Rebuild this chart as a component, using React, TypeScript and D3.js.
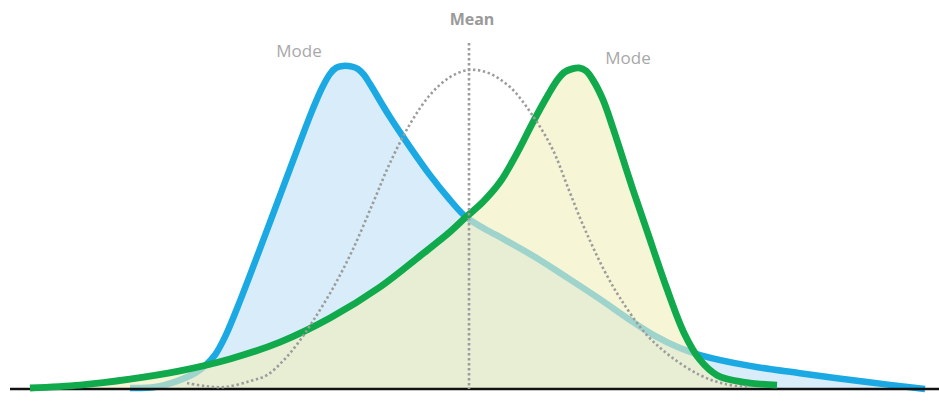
import React from "react";
import * as d3 from "d3";

// Skewed distributions vs. a symmetric reference curve (standardised x, relative density y)
const positiveSkewX = [-3.685, -3.413, -3.174, -2.978, -2.87, -2.761, -2.652, -2.489, -2.326, -2.163, -2.0, -1.837, -1.707, -1.598, -1.511, -1.446, -1.37, -1.272, -1.207, -1.141, -1.076, -0.859, -0.641, -0.424, -0.207, -0.033, 0.174, 0.391, 0.717, 1.076, 1.435, 1.75, 2.022, 2.293, 2.511, 3.054, 3.598, 4.326, 4.957];
const positiveSkewY = [0.003, 0.006, 0.024, 0.048, 0.07, 0.103, 0.158, 0.267, 0.385, 0.506, 0.627, 0.748, 0.842, 0.912, 0.955, 0.973, 0.979, 0.977, 0.97, 0.952, 0.924, 0.824, 0.733, 0.648, 0.573, 0.521, 0.485, 0.452, 0.4, 0.336, 0.27, 0.209, 0.161, 0.124, 0.103, 0.07, 0.048, 0.021, 0.0];

const negativeSkewX = [-4.772, -4.228, -3.685, -3.141, -2.598, -2.054, -1.511, -0.967, -0.533, -0.207, -0.033, 0.152, 0.337, 0.511, 0.696, 0.859, 0.967, 1.043, 1.12, 1.196, 1.272, 1.348, 1.457, 1.565, 1.674, 1.783, 1.935, 2.152, 2.337, 2.511, 2.696, 2.978, 3.348];
const negativeSkewY = [0.003, 0.012, 0.03, 0.055, 0.091, 0.142, 0.215, 0.309, 0.403, 0.476, 0.521, 0.567, 0.627, 0.709, 0.809, 0.891, 0.939, 0.961, 0.97, 0.973, 0.964, 0.936, 0.876, 0.791, 0.697, 0.603, 0.479, 0.303, 0.17, 0.088, 0.042, 0.021, 0.012];

const normalX = [-3.065, -2.87, -2.652, -2.38, -2.196, -2.022, -1.859, -1.696, -1.478, -1.261, -1.043, -0.859, -0.641, -0.424, -0.207, 0.0, 0.207, 0.446, 0.696, 0.913, 1.065, 1.207, 1.337, 1.478, 1.641, 1.913, 2.185, 2.511, 2.783, 3.054];
const normalY = [0.018, 0.009, 0.006, 0.024, 0.042, 0.085, 0.139, 0.206, 0.306, 0.424, 0.564, 0.685, 0.803, 0.891, 0.945, 0.967, 0.958, 0.915, 0.827, 0.724, 0.618, 0.518, 0.436, 0.355, 0.276, 0.17, 0.1, 0.042, 0.015, 0.006];

const meanValue = 0;
const modeLabel = "Mode";
const meanLabel = "Mean";

type Pt = [number, number];
const zip = (xs: number[], ys: number[]): Pt[] => xs.map((x, i) => [x, ys[i]]);

const W = 939;
const H = 404;

export default function App() {
  const x = d3.scaleLinear().domain([-5, 5]).range([9, 929]);
  const y = d3.scaleLinear().domain([0, 1]).range([389, 59]);

  const blue = zip(positiveSkewX, positiveSkewY);
  const green = zip(negativeSkewX, negativeSkewY);
  const normal = zip(normalX, normalY);

  const curve = d3.curveCatmullRom.alpha(0.5);
  const line = d3.line<Pt>().x((d) => x(d[0])).y((d) => y(d[1])).curve(curve);
  const area = d3
    .area<Pt>()
    .x((d) => x(d[0]))
    .y0(y(0))
    .y1((d) => y(d[1]))
    .curve(curve);

  const peak = (pts: Pt[]) => pts.reduce((a, b) => (b[1] > a[1] ? b : a));
  const blueMode = peak(blue);
  const greenMode = peak(green);

  const dotted = { stroke: "#9c9c9c", strokeWidth: 2.6, strokeDasharray: "2.4 2.6", fill: "none" };
  const font = "'Open Sans', 'Noto Sans', sans-serif";

  return (
    <svg
      width={W}
      height={H}
      viewBox={`0 0 ${W} ${H}`}
      style={{ position: "absolute", left: 0, top: 0, background: "#fff" }}
    >
      <path d={area(blue) ?? ""} fill="#d8ecfa" />
      <path d={line(blue) ?? ""} fill="none" stroke="#1aa9e2" strokeWidth={6.5} strokeLinejoin="round" />
      <path d={area(green) ?? ""} fill="#f0efbd" fillOpacity={0.62} />
      <line x1={10} x2={W} y1={y(0)} y2={y(0)} stroke="#111" strokeWidth={2.6} />
      <path d={line(green) ?? ""} fill="none" stroke="#10a94c" strokeWidth={6.8} strokeLinejoin="round" />
      <path d={line(normal) ?? ""} {...dotted} />
      <line x1={x(meanValue)} x2={x(meanValue)} y1={43} y2={y(0)} {...dotted} />

      <text
        x={x(meanValue) + 3}
        y={25}
        textAnchor="middle"
        fontFamily={font}
        fontWeight={700}
        fontSize={16}
        fill="#9a9a9a"
      >
        {meanLabel}
      </text>
      <text
        x={x(blueMode[0]) - 44}
        y={y(blueMode[1]) - 9}
        textAnchor="middle"
        fontFamily={font}
        fontSize={17}
        fill="#a8a8a8"
      >
        {modeLabel}
      </text>
      <text
        x={x(greenMode[0]) + 49}
        y={y(greenMode[1]) - 4}
        textAnchor="middle"
        fontFamily={font}
        fontSize={17}
        fill="#a8a8a8"
      >
        {modeLabel}
      </text>
    </svg>
  );
}
